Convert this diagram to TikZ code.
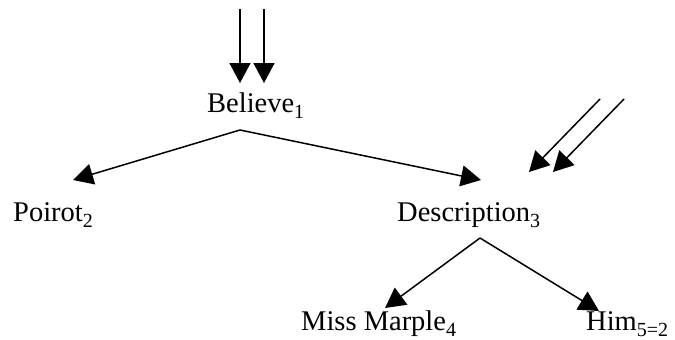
\documentclass[tikz,border=0pt]{standalone}
\usepackage{fontspec}
\setmainfont{Liberation Serif}
\usetikzlibrary{arrows.meta}

% lowered, smaller index after a word
\newcommand\lowsub[1]{\raisebox{-6.5pt}{\fontsize{20}{22}\selectfont #1}}

\begin{document}
\begin{tikzpicture}[x=1pt,y=-1pt,
    word/.style={anchor=base west,inner sep=0pt,font=\fontsize{28.5}{33}\selectfont},
    link/.style={line width=1.5pt,-{Triangle[length=20pt,width=21pt]}}]
  \clip (0,0) rectangle (675,340);
  \useasboundingbox (0,0) rectangle (675,340);

  % words of the tree
  \node[word] (believe) at (207,112) {Believe\lowsub{1}};
  \node[word] (poirot)  at (13,221)  {Poirot\lowsub{2}};
  \node[word] (descr)   at (397,221) {Description\lowsub{3}};
  \node[word] (marple)  at (301,330) {Miss Marple\lowsub{4}};
  \node[word] (him)     at (586,330) {Him\lowsub{5=2}};

  % branching points and arrow targets
  \coordinate (believeroot) at (240,130);
  \coordinate (poirottip)   at (73,180);
  \coordinate (descrtip)    at (481,180);
  \coordinate (descrroot)   at (480,238);
  \coordinate (marpletip)   at (385,308);
  \coordinate (himtip)      at (599,311);

  % incoming pointers
  \coordinate (inA) at (240,9);
  \coordinate (inB) at (264,9);
  \coordinate (inAtip) at (240,83);
  \coordinate (inBtip) at (264,83);
  \coordinate (inC) at (600,99);
  \coordinate (inD) at (624,99);
  \coordinate (inCtip) at (529,172);
  \coordinate (inDtip) at (553,172);

  \draw[link] (inA) -- (inAtip);
  \draw[link] (inB) -- (inBtip);
  \draw[link] (inC) -- (inCtip);
  \draw[link] (inD) -- (inDtip);

  \draw[link] (believeroot) -- (poirottip);
  \draw[link] (believeroot) -- (descrtip);
  \draw[link] (descrroot) -- (marpletip);
  \draw[link] (descrroot) -- (himtip);
\end{tikzpicture}
\end{document}
